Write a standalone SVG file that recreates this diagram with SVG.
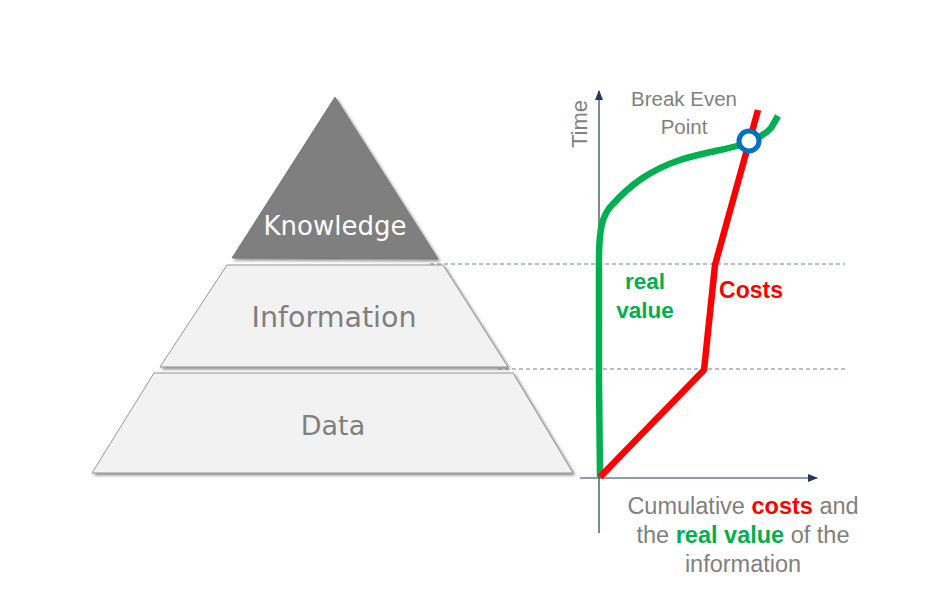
<svg xmlns="http://www.w3.org/2000/svg" width="936" height="605" viewBox="0 0 936 605">
<defs>
<filter id="sh" x="-10%" y="-10%" width="130%" height="130%">
<feDropShadow dx="2" dy="2" stdDeviation="1.5" flood-color="#000" flood-opacity="0.45"/>
</filter>
<marker id="ah" viewBox="0 0 10 10" refX="9" refY="5" markerWidth="10" markerHeight="10" markerUnits="userSpaceOnUse" orient="auto">
<path d="M0,1 L10,5 L0,9 z" fill="#203864"/>
</marker>
<style>
.lay{fill:#F2F2F2;stroke:#7F7F7F;stroke-width:0.8;filter:url(#sh)}
.top{fill:#7F7F7F;stroke:#6F6F6F;stroke-width:0.8;filter:url(#sh)}
.pt{font-family:"DejaVu Sans",Verdana,sans-serif;text-anchor:middle}
.gt{font-family:"Liberation Sans",Arial,sans-serif;fill:#7F7F7F}
.bd{font-family:"Liberation Sans",Arial,sans-serif;font-weight:bold}
.dash{stroke:#6A7EA0;stroke-width:1;stroke-dasharray:4 3;fill:none}
.axis{stroke:#203864;stroke-width:1.2;fill:none}
</style>
</defs>
<rect width="936" height="605" fill="#fff"/>
<g id="knowledge">
<polygon class="top" points="335,97 438,259 232,258"/>
<text class="pt" x="335" y="235" font-size="26" fill="#fff">Knowledge</text>
</g>
<g id="information">
<polygon class="lay" points="227,265 443,265 508,367 160,367"/>
<text class="pt" x="334" y="327" font-size="28.5" fill="#7F7F7F">Information</text>
</g>
<g id="data">
<polygon class="lay" points="154,373 513,373 573,473 92,473"/>
<text class="pt" x="333" y="435" font-size="27" fill="#7F7F7F">Data</text>
</g>
<g id="connectors">
<line class="dash" x1="430" y1="264" x2="845" y2="264"/>
<line class="dash" x1="498" y1="369" x2="845" y2="369"/>
<line class="axis" x1="599" y1="533" x2="599" y2="91" marker-end="url(#ah)"/>
<line class="axis" x1="580" y1="478" x2="817" y2="478" marker-end="url(#ah)"/>
<path d="M600,477 L599,380 L599,260 C599,230 602,215 612,205 C630,185 650,170 680,160 C705,152 725,150 740,145 C755,140 765,135 771,128 L778,116" fill="none" stroke="#00B050" stroke-width="6.5" stroke-linejoin="round"/>
<polyline points="600,477 704,370 715,265 758,110" fill="none" stroke="#FF0000" stroke-width="6.5" stroke-linejoin="round"/>
</g>
<g id="break-even">
<circle cx="749" cy="141" r="10" fill="#fff" stroke="#0070C0" stroke-width="5"/>
<text class="gt" x="684" y="106" font-size="20.5" text-anchor="middle">Break Even</text>
<text class="gt" x="684" y="134" font-size="20.5" text-anchor="middle">Point</text>
</g>
<g id="labels">
<text class="gt" transform="translate(587,124) rotate(-90)" font-size="22" text-anchor="middle">Time</text>
<text class="bd" x="645" y="289" font-size="22.5" fill="#00B050" text-anchor="middle">real</text>
<text class="bd" x="645" y="318" font-size="22.5" fill="#00B050" text-anchor="middle">value</text>
<text class="bd" x="751" y="298" font-size="23" fill="#FF0000" text-anchor="middle">Costs</text>
<text class="gt" x="743" y="514" font-size="23.5" text-anchor="middle">Cumulative <tspan class="bd" fill="#FF0000">costs</tspan> and</text>
<text class="gt" x="743" y="543" font-size="23.5" text-anchor="middle">the <tspan class="bd" fill="#00B050">real value</tspan> of the</text>
<text class="gt" x="743" y="572" font-size="23.5" text-anchor="middle">information</text>
</g>
</svg>
